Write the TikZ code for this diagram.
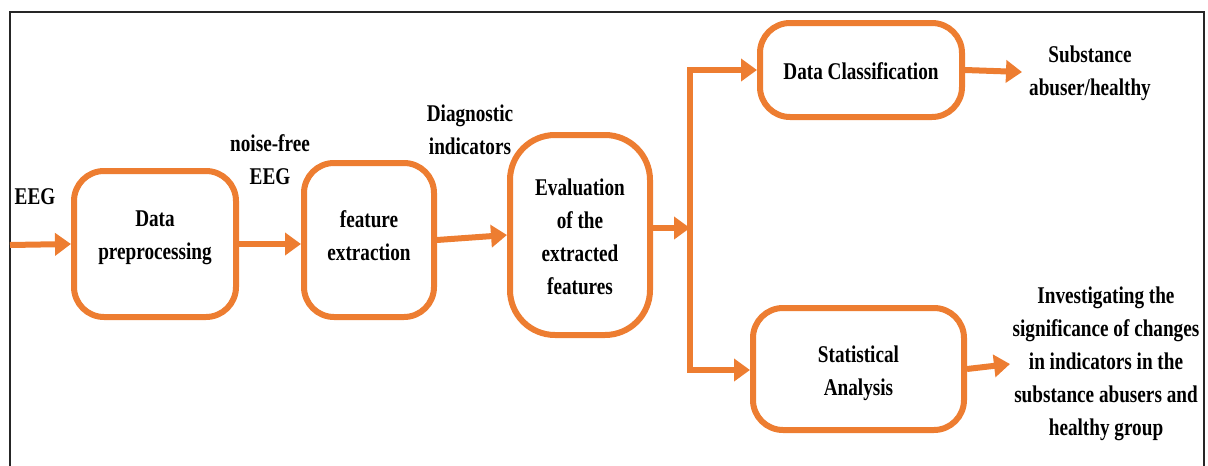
\documentclass[tikz,border=0pt]{standalone}
\usepackage{fontspec}
\setmainfont{Liberation Serif}[FakeStretch=0.8]
\usetikzlibrary{arrows.meta}
\definecolor{flow}{HTML}{ED7D31}
\begin{document}
\begin{tikzpicture}[x=1pt,y=-1pt,
  txt/.style={font=\fontsize{24}{33}\selectfont\bfseries, align=center, inner sep=0pt, text=black},
  stage/.style={draw=flow, line width=6pt, rounded corners=30pt, fill=white, inner sep=0pt},
  arr/.style={draw=flow, line width=6pt, -{Triangle[length=16pt,width=22pt]}},
  arr2/.style={draw=flow, line width=6pt, {Triangle[length=16pt,width=22pt]}-{Triangle[length=16pt,width=22pt]}, line join=miter}
]
\useasboundingbox (0,0) rectangle (1208,466);
\draw[line width=1.6pt, black!85] (10,470) -- (10,12) -- (1204,12) -- (1204,470);

\node[stage, minimum width=162pt, minimum height=146pt] (pre) at (155,244) {};
\node[stage, minimum width=130pt, minimum height=154pt] (fe) at (369,240) {};
\node[stage, rounded corners=45pt, minimum width=140pt, minimum height=200pt] (ev) at (580,235) {};
\node[stage, minimum width=202pt, minimum height=94pt] (dc) at (861,70) {};
\node[stage, minimum width=211pt, minimum height=122pt] (sa) at (858.5,369) {};

\node[txt] (preT) at (155,238) {Data\\preprocessing};
\node[txt] (feT) at (369,236) {feature\\extraction};
\node[txt] (evT) at (580,237) {Evaluation\\of the\\extracted\\features};
\node[txt] (dcT) at (861,71) {Data Classification};
\node[txt] (saT) at (858.5,373) {Statistical\\Analysis};

\node[txt] (leeg) at (35,197) {EEG};
\node[txt] (lnf) at (270,160) {noise-free\\EEG};
\node[txt] (ldi) at (470,130) {Diagnostic\\indicators};
\node[txt] (lsub) at (1090,73) {Substance\\abuser/healthy};
\node[txt] (linv) at (1106,364) {Investigating the\\significance of changes\\in indicators in the\\substance abusers and\\healthy group};

\coordinate (in) at (10,245);
\coordinate (j) at (690,228);
\coordinate (jt) at (690,70);
\coordinate (jb) at (690,370);
\coordinate (o1) at (1022,72);
\coordinate (o2) at (1010,364);

\draw[arr] (in) -- (pre.west);
\draw[arr] (pre.east) -- (pre.east -| fe.west);
\draw[arr] (fe.east) -- (ev.west);
\draw[arr] (ev.east |- j) -- (j);
\draw[arr2] (dc.west |- jt) -- (jt) -- (jb) -- (sa.west |- jb);
\draw[arr] (dc.east) -- (o1);
\draw[arr] (sa.east) -- (o2);
\end{tikzpicture}
\end{document}
